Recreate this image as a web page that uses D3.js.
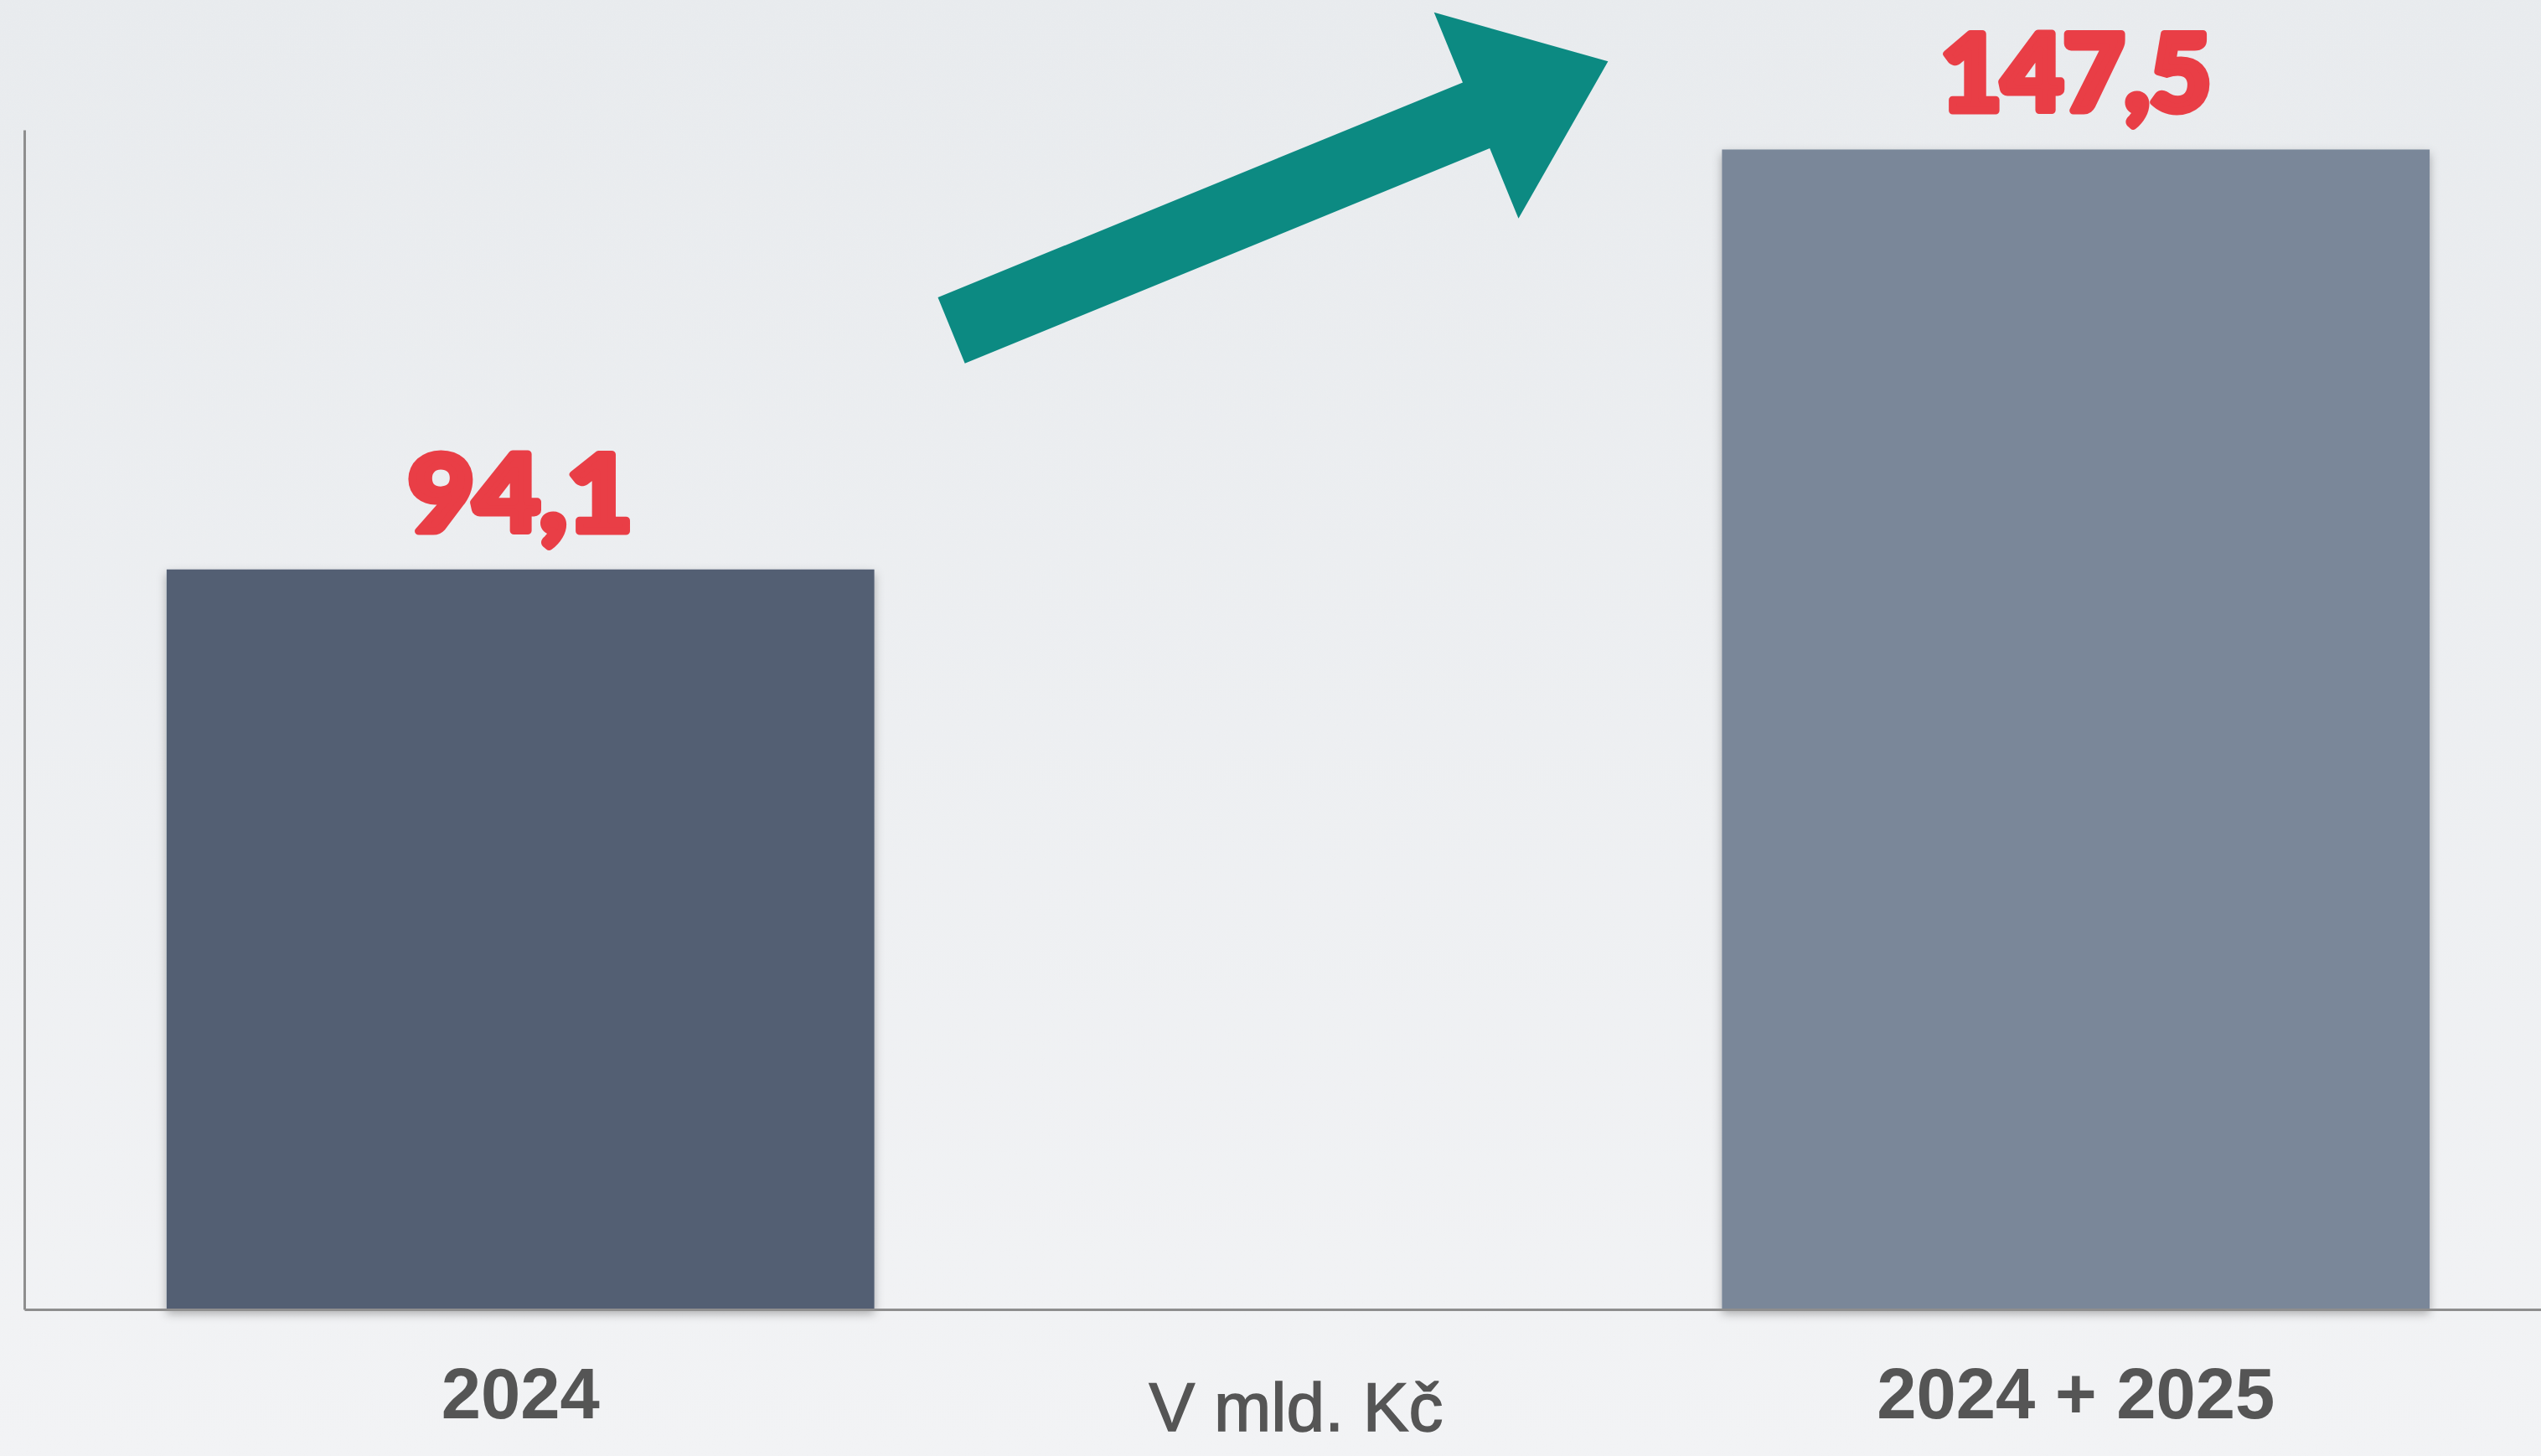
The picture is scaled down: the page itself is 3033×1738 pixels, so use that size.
<!DOCTYPE html>
<html>
<head>
<meta charset="utf-8">
<script src="https://cdn.jsdelivr.net/npm/d3@7"></script>
<style>
  body { margin: 0; overflow: hidden; background: #eceef1; }
</style>
</head>
<body>
<svg id="chart"></svg>
<script>
// data
let categories = ['2024', '2024 + 2025'];
let values = [94.1, 147.5];
let valueLabels = ['94,1', '147,5'];
let unitLabel = 'V mld. Kč';

let width = 3033;
let height = 1738;

// margins
let margL = 29;
let margT = 155;
let baseY = 1563;

let svg = d3.select('#chart')
    .attr('width', width)
    .attr('height', height);

let defs = svg.append('defs');

// background gradient
let grad = defs.append('linearGradient')
    .attr('id', 'bgGrad')
    .attr('x1', 0).attr('y1', 0).attr('x2', 0).attr('y2', 1);
grad.append('stop').attr('offset', '0%').attr('stop-color', '#e7eaed');
grad.append('stop').attr('offset', '100%').attr('stop-color', '#f1f2f4');

// paper noise
let noise = defs.append('filter').attr('id', 'noise')
    .attr('x', 0).attr('y', 0).attr('width', '100%').attr('height', '100%');
noise.append('feTurbulence')
    .attr('type', 'fractalNoise')
    .attr('baseFrequency', 0.9)
    .attr('numOctaves', 2)
    .attr('result', 't');
noise.append('feColorMatrix')
    .attr('in', 't')
    .attr('type', 'matrix')
    .attr('values', '0 0 0 0 1  0 0 0 0 1  0 0 0 0 1  0 0 0 0.12 0');

// bar shadow
let shadow = defs.append('filter').attr('id', 'barShadow')
    .attr('x', '-5%').attr('y', '-5%').attr('width', '110%').attr('height', '115%');
shadow.append('feDropShadow')
    .attr('dx', 0).attr('dy', 5)
    .attr('stdDeviation', 6)
    .attr('flood-color', '#000')
    .attr('flood-opacity', 0.3);

svg.append('rect')
    .attr('width', width).attr('height', height)
    .attr('fill', 'url(#bgGrad)');
svg.append('rect')
    .attr('width', width).attr('height', height)
    .attr('filter', 'url(#noise)');

// scales
let xScale = d3.scaleBand()
    .domain(categories)
    .range([margL, 3070])
    .paddingInner(0.545)
    .paddingOuter(0.0915);

let yScale = d3.scaleLinear()
    .domain([0, 150])
    .range([baseY, margT]);

let barColors = ['#525f73', '#7a8799'];

// bars
svg.append('g').attr('class', 'barGrp')
    .selectAll('rect')
    .data(values)
    .enter()
    .append('rect')
    .attr('x', (d, i) => xScale(categories[i]))
    .attr('y', d => yScale(d))
    .attr('width', xScale.bandwidth())
    .attr('height', d => yScale(0) - yScale(d))
    .attr('fill', (d, i) => barColors[i])
    .attr('filter', 'url(#barShadow)');

// axes - no ticks, only the lines
let xAxis = svg.append('g')
    .attr('transform', 'translate(0,' + baseY + ')')
    .call(d3.axisBottom(xScale).tickSize(0).tickFormat(''));
let yAxis = svg.append('g')
    .attr('transform', 'translate(' + margL + ',0)')
    .call(d3.axisLeft(yScale).ticks(0).tickSize(0));
svg.selectAll('.domain')
    .attr('stroke', '#8e8e8e')
    .attr('stroke-width', 3);

// value labels - heavy, narrow look
let labelWidths = [276, 331];
svg.append('g').attr('class', 'valueGrp')
    .selectAll('text')
    .data(values)
    .enter()
    .append('text')
    .attr('x', (d, i) => xScale(categories[i]) + xScale.bandwidth() / 2)
    .attr('y', d => yScale(d) - 46)
    .attr('text-anchor', 'middle')
    .attr('font-family', 'Lato, Roboto, "DejaVu Sans", sans-serif')
    .attr('font-weight', 900)
    .attr('font-size', 126)
    .attr('fill', '#e93e46')
    .attr('stroke', '#e93e46')
    .attr('stroke-width', 9)
    .attr('stroke-linejoin', 'round')
    .attr('textLength', (d, i) => labelWidths[i] - 8)
    .attr('lengthAdjust', 'spacingAndGlyphs')
    .text((d, i) => valueLabels[i]);

// category labels
svg.append('g').attr('class', 'catGrp')
    .selectAll('text')
    .data(categories)
    .enter()
    .append('text')
    .attr('x', d => xScale(d) + xScale.bandwidth() / 2)
    .attr('y', 1693)
    .attr('text-anchor', 'middle')
    .attr('font-family', '"Liberation Sans", Arial, sans-serif')
    .attr('font-weight', 'bold')
    .attr('font-size', 85)
    .attr('fill', '#555555')
    .text(d => d);

// unit label
svg.append('text')
    .attr('x', 1547)
    .attr('y', 1708)
    .attr('text-anchor', 'middle')
    .attr('font-family', '"Liberation Sans", Arial, sans-serif')
    .attr('font-size', 82)
    .attr('fill', '#555555')
    .attr('stroke', '#555555')
    .attr('stroke-width', 1.5)
    .text(unitLabel);

// growth arrow, from the gap after the first bar up toward the second bar
let arrowStart = [xScale(categories[0]) + xScale.bandwidth() + 92, yScale(124.5)];
let arrowEnd = [xScale(categories[1]) - 136, yScale(158.7)];
let dx = arrowEnd[0] - arrowStart[0];
let dy = arrowEnd[1] - arrowStart[1];
let arrowLen = Math.sqrt(dx * dx + dy * dy);
let angle = Math.atan2(dy, dx) * 180 / Math.PI;
let shaftHalf = 42.5;
let headHalf = 133;
let headLen = 170;
let arrowPts = [
    [0, -shaftHalf],
    [arrowLen - headLen, -shaftHalf],
    [arrowLen - headLen, -headHalf],
    [arrowLen, 0],
    [arrowLen - headLen, headHalf],
    [arrowLen - headLen, shaftHalf],
    [0, shaftHalf]
];
svg.append('polygon')
    .attr('points', arrowPts.map(p => p.join(',')).join(' '))
    .attr('transform', 'translate(' + arrowStart[0] + ',' + arrowStart[1] + ') rotate(' + angle + ')')
    .attr('fill', '#0c8a82');
</script>
</body>
</html>
